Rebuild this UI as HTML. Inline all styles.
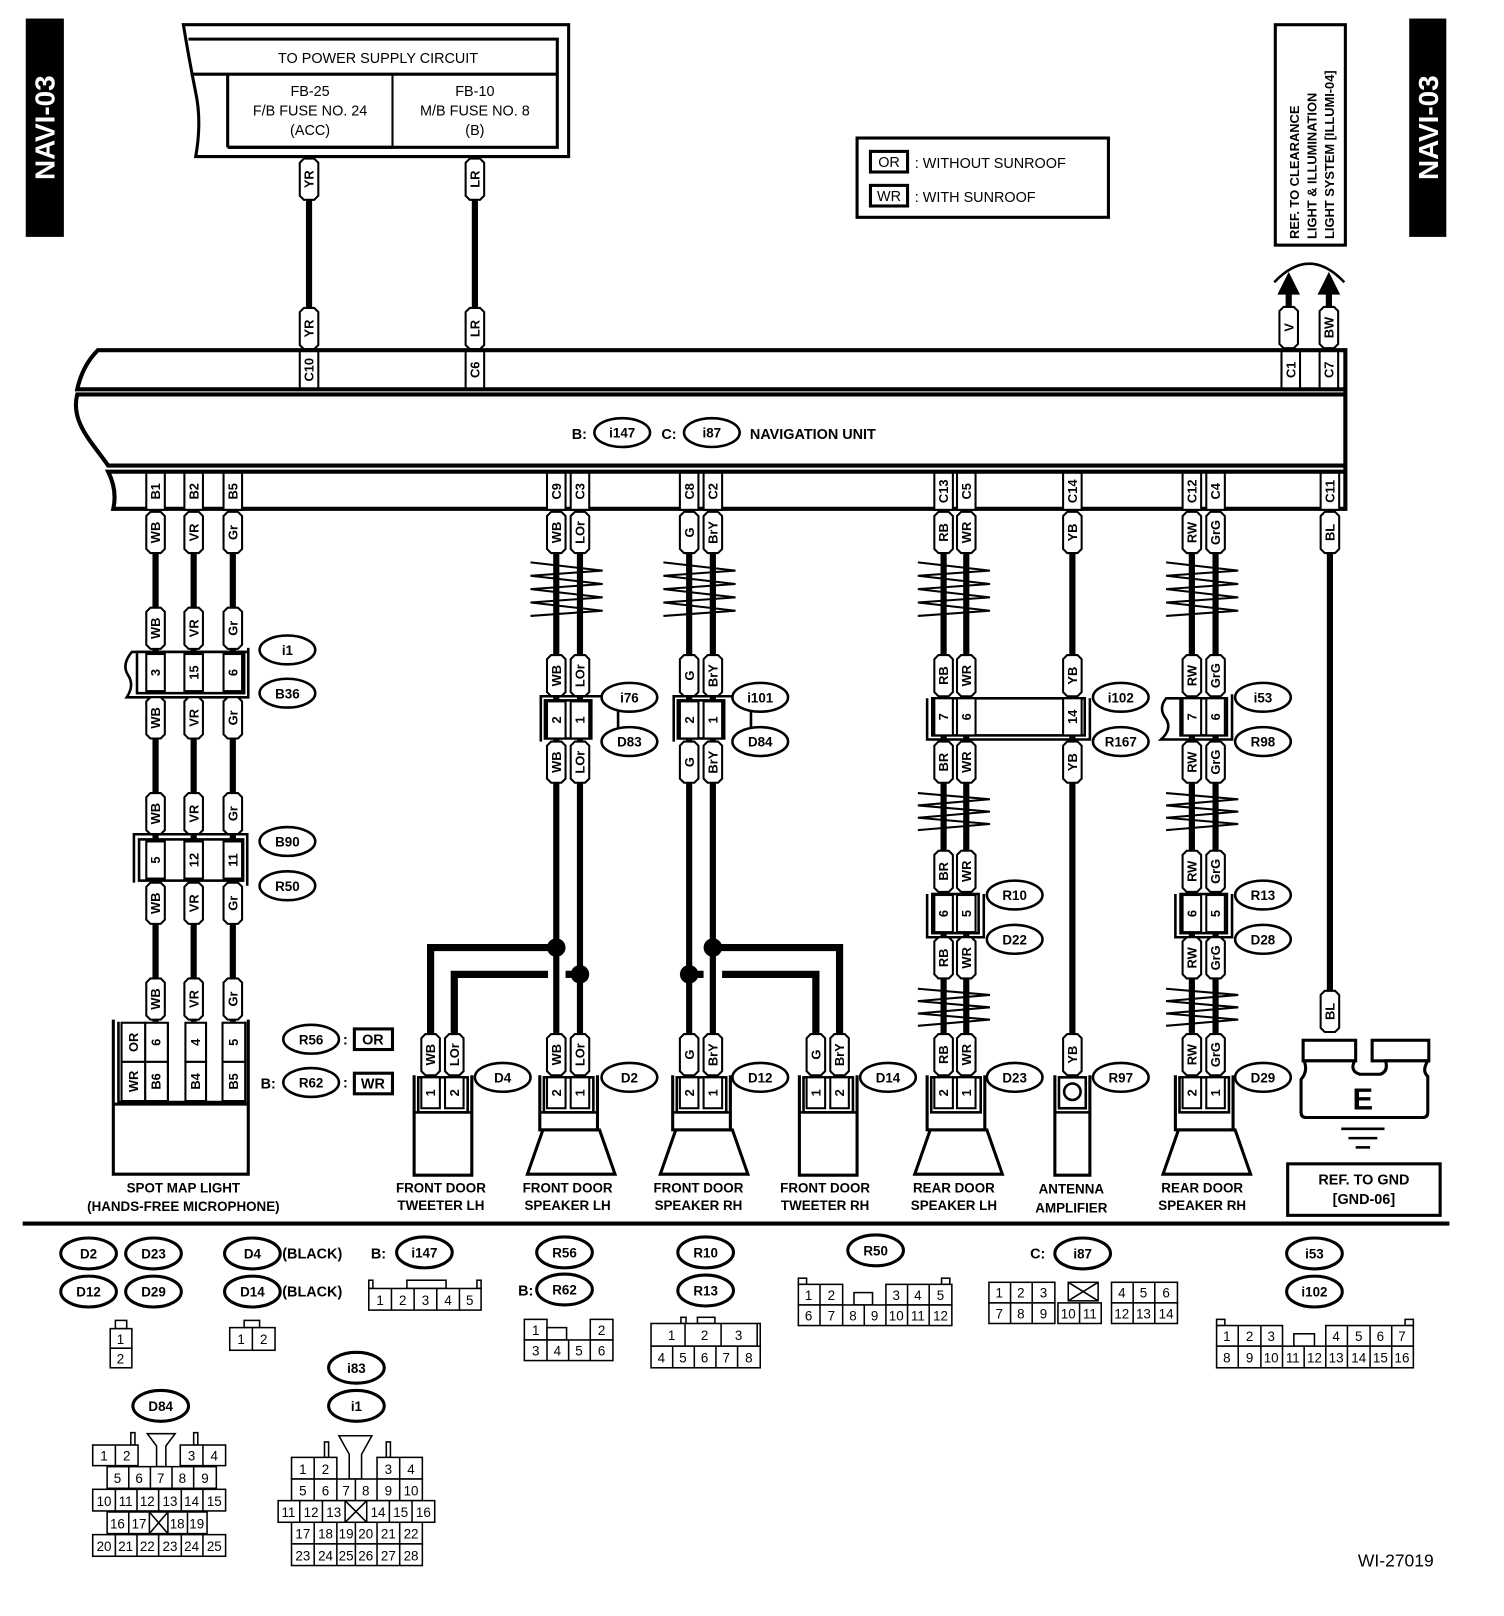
<!DOCTYPE html>
<html><head><meta charset="utf-8"><style>
html,body{margin:0;padding:0;background:#fff}
svg{display:block}
text{font-family:"Liberation Sans",Arial,sans-serif;font-weight:bold;fill:#000}
.v{font-size:12.5px;text-anchor:middle}
.c{font-size:13px;text-anchor:middle}
.n{font-size:13px;text-anchor:middle;font-weight:normal}
.s{font-size:14px}
</style></head><body>
<svg width="1504" height="1616" viewBox="0 0 1460 1569" preserveAspectRatio="none" xmlns="http://www.w3.org/2000/svg">
<defs>
<path id="tg" d="M-9,4 L-5,0 H5 L9,4 V36 L5,40 H-5 L-9,36 Z" fill="#fff" stroke="#000" stroke-width="2"/>
<rect id="pc" x="-9" y="0" width="18" height="36" fill="#fff" stroke="#000" stroke-width="2"/>
<rect id="pc2" x="-9" y="0" width="18" height="30" fill="#fff" stroke="#000" stroke-width="2"/>
<polyline id="tw" points="-25,0 45,8 -25,13 45,21 -25,26 45,34 -25,39 45,47 -25,52" fill="none" stroke="#000" stroke-width="2"/>
<polyline id="tw2" points="-25,0 45,6 -25,12 45,18 -25,24 45,30 -25,36" fill="none" stroke="#000" stroke-width="2"/>
</defs>

<!-- NAVI tabs -->
<rect x="25" y="18" width="37" height="212" fill="#000"/>
<text x="-124" y="53" transform="rotate(-90)" style="font-size:27px;fill:#fff;text-anchor:middle">NAVI-03</text>
<rect x="1368" y="18" width="36" height="212" fill="#000"/>
<text x="-124" y="1396" transform="rotate(-90)" style="font-size:27px;fill:#fff;text-anchor:middle">NAVI-03</text>

<!-- power box -->
<path d="M178,24 H552 V152 H190 Q196,118 190,90 Q184,60 178,24 Z" fill="none" stroke="#000" stroke-width="3"/>
<path d="M183,38 H541 V143 H221" fill="none" stroke="#000" stroke-width="3"/>
<line x1="185" y1="72" x2="541" y2="72" stroke="#000" stroke-width="3"/>
<line x1="221" y1="72" x2="221" y2="143" stroke="#000" stroke-width="3"/>
<line x1="381" y1="72" x2="381" y2="143" stroke="#000" stroke-width="2"/>
<line x1="221" y1="143" x2="381" y2="143" stroke="#000" stroke-width="3"/>
<text x="367" y="61" class="c" style="font-weight:normal;font-size:14px">TO POWER SUPPLY CIRCUIT</text>
<text x="301" y="93" class="n" style="font-size:14px">FB-25</text>
<text x="301" y="112" class="n" style="font-size:14px">F/B FUSE NO. 24</text>
<text x="301" y="131" class="n" style="font-size:14px">(ACC)</text>
<text x="461" y="93" class="n" style="font-size:14px">FB-10</text>
<text x="461" y="112" class="n" style="font-size:14px">M/B FUSE NO. 8</text>
<text x="461" y="131" class="n" style="font-size:14px">(B)</text>

<!-- legend -->
<rect x="832" y="134" width="244" height="77" fill="none" stroke="#000" stroke-width="3"/>
<rect x="845" y="147" width="36" height="20" fill="none" stroke="#000" stroke-width="3"/>
<text x="863" y="162" class="n" style="font-size:14px">OR</text>
<text x="888" y="163" style="font-size:14px;font-weight:normal">: WITHOUT SUNROOF</text>
<rect x="845" y="180" width="36" height="20" fill="none" stroke="#000" stroke-width="3"/>
<text x="863" y="195" class="n" style="font-size:14px">WR</text>
<text x="888" y="196" style="font-size:14px;font-weight:normal">: WITH SUNROOF</text>

<!-- REF box -->
<rect x="1238" y="24" width="68" height="214" fill="none" stroke="#000" stroke-width="3"/>
<text x="-232" y="1261" transform="rotate(-90)" style="font-size:12.5px">REF. TO CLEARANCE</text>
<text x="-232" y="1278" transform="rotate(-90)" style="font-size:12.5px">LIGHT &amp; ILLUMINATION</text>
<text x="-232" y="1295" transform="rotate(-90)" style="font-size:12.5px">LIGHT SYSTEM [ILLUMI-04]</text>
<path d="M1237,274 Q1271,238 1305,274" fill="none" stroke="#000" stroke-width="2.5"/>
<polygon points="1251,264 1240,286 1262,286" fill="#000"/>
<polygon points="1290,264 1279,286 1301,286" fill="#000"/>
<line x1="1251" y1="284" x2="1251" y2="340" stroke="#000" stroke-width="6"/>
<line x1="1290" y1="284" x2="1290" y2="340" stroke="#000" stroke-width="6"/>
<g transform="translate(1251,298)"><use href="#tg"/><text class="v" x="-20" y="4.5" transform="rotate(-90)">V</text></g>
<g transform="translate(1290,298)"><use href="#tg"/><text class="v" x="-20" y="4.5" transform="rotate(-90)">BW</text></g>

<!-- power wires -->
<line x1="300" y1="152" x2="300" y2="340" stroke="#000" stroke-width="6"/>
<line x1="461" y1="152" x2="461" y2="340" stroke="#000" stroke-width="6"/>
<g transform="translate(300,154)"><use href="#tg"/><text class="v" x="-20" y="4.5" transform="rotate(-90)">YR</text></g>
<g transform="translate(461,154)"><use href="#tg"/><text class="v" x="-20" y="4.5" transform="rotate(-90)">LR</text></g>
<g transform="translate(300,299)"><use href="#tg"/><text class="v" x="-20" y="4.5" transform="rotate(-90)">YR</text></g>
<g transform="translate(461,299)"><use href="#tg"/><text class="v" x="-20" y="4.5" transform="rotate(-90)">LR</text></g>

<!-- nav unit -->
<g fill="none" stroke="#000" stroke-width="4">
<path d="M1306,340 H95 Q80,355 75,378 H1306"/>
<path d="M1306,383 H75 C68,410 90,430 105,452 H1306"/>
<path d="M1306,458 H105 Q114,476 110,494 H1306"/>
<line x1="1306" y1="338" x2="1306" y2="496"/>
</g>
<text x="555" y="426" style="font-size:14px">B:</text>
<ellipse cx="604" cy="420" rx="27" ry="14" fill="#fff" stroke="#000" stroke-width="2.5"/><text x="604" y="425" class="c">i147</text>
<text x="642" y="426" style="font-size:14px">C:</text>
<ellipse cx="691" cy="420" rx="27" ry="14" fill="#fff" stroke="#000" stroke-width="2.5"/><text x="691" y="425" class="c">i87</text>
<text x="728" y="426" style="font-size:14px">NAVIGATION UNIT</text>

<!-- top pins -->
<g transform="translate(300,341)"><use href="#pc"/><text class="v" x="-18" y="4.5" transform="rotate(-90)">C10</text></g>
<g transform="translate(461,341)"><use href="#pc"/><text class="v" x="-18" y="4.5" transform="rotate(-90)">C6</text></g>
<g transform="translate(1253,341)"><use href="#pc"/><text class="v" x="-18" y="4.5" transform="rotate(-90)">C1</text></g>
<g transform="translate(1290,341)"><use href="#pc"/><text class="v" x="-18" y="4.5" transform="rotate(-90)">C7</text></g>

<!-- wires (under) -->
<g stroke="#000" stroke-width="6" fill="none">
<line x1="151" y1="494" x2="151" y2="992"/><line x1="188" y1="494" x2="188" y2="992"/><line x1="226" y1="494" x2="226" y2="992"/>
<line x1="540" y1="494" x2="540" y2="1006"/><line x1="563" y1="494" x2="563" y2="1006"/>
<line x1="669" y1="494" x2="669" y2="1006"/><line x1="692" y1="494" x2="692" y2="1006"/>
<line x1="916" y1="494" x2="916" y2="1006"/><line x1="938" y1="494" x2="938" y2="1006"/>
<line x1="1041" y1="494" x2="1041" y2="1006"/>
<line x1="1157" y1="494" x2="1157" y2="1006"/><line x1="1180" y1="494" x2="1180" y2="1006"/>
<line x1="1291" y1="494" x2="1291" y2="965"/>
<path d="M418,1006 V920 H540" stroke-width="7"/>
<path d="M441,1006 V946 H532" stroke-width="7"/>
<path d="M549,946 H563" stroke-width="7"/>
<path d="M815,1006 V920 H692" stroke-width="7"/>
<path d="M792,1006 V946 H701" stroke-width="7"/>
<path d="M683,946 H669" stroke-width="7"/>
</g>
<circle cx="540" cy="920" r="9"/><circle cx="563" cy="946" r="9"/>
<circle cx="692" cy="920" r="9"/><circle cx="669" cy="946" r="9"/>

<!-- twists -->
<use href="#tw" x="540" y="546"/>
<use href="#tw" x="669" y="546"/>
<use href="#tw" x="916" y="546"/>
<use href="#tw" x="1157" y="546"/>
<use href="#tw2" x="916" y="770"/>
<use href="#tw2" x="1157" y="770"/>
<use href="#tw2" x="916" y="960"/>
<use href="#tw2" x="1157" y="960"/>

<!-- bottom pins -->
<g transform="translate(151,459)"><use href="#pc"/><text class="v" x="-18" y="4.5" transform="rotate(-90)">B1</text></g>
<g transform="translate(188,459)"><use href="#pc"/><text class="v" x="-18" y="4.5" transform="rotate(-90)">B2</text></g>
<g transform="translate(226,459)"><use href="#pc"/><text class="v" x="-18" y="4.5" transform="rotate(-90)">B5</text></g>
<g transform="translate(540,459)"><use href="#pc"/><text class="v" x="-18" y="4.5" transform="rotate(-90)">C9</text></g>
<g transform="translate(563,459)"><use href="#pc"/><text class="v" x="-18" y="4.5" transform="rotate(-90)">C3</text></g>
<g transform="translate(669,459)"><use href="#pc"/><text class="v" x="-18" y="4.5" transform="rotate(-90)">C8</text></g>
<g transform="translate(692,459)"><use href="#pc"/><text class="v" x="-18" y="4.5" transform="rotate(-90)">C2</text></g>
<g transform="translate(916,459)"><use href="#pc"/><text class="v" x="-18" y="4.5" transform="rotate(-90)">C13</text></g>
<g transform="translate(938,459)"><use href="#pc"/><text class="v" x="-18" y="4.5" transform="rotate(-90)">C5</text></g>
<g transform="translate(1041,459)"><use href="#pc"/><text class="v" x="-18" y="4.5" transform="rotate(-90)">C14</text></g>
<g transform="translate(1157,459)"><use href="#pc"/><text class="v" x="-18" y="4.5" transform="rotate(-90)">C12</text></g>
<g transform="translate(1180,459)"><use href="#pc"/><text class="v" x="-18" y="4.5" transform="rotate(-90)">C4</text></g>
<g transform="translate(1291,459)"><use href="#pc"/><text class="v" x="-18" y="4.5" transform="rotate(-90)">C11</text></g>

<!-- column 1 -->
<g transform="translate(151,497)"><use href="#tg"/><text class="v" x="-20" y="4.5" transform="rotate(-90)">WB</text></g>
<g transform="translate(188,497)"><use href="#tg"/><text class="v" x="-20" y="4.5" transform="rotate(-90)">VR</text></g>
<g transform="translate(226,497)"><use href="#tg"/><text class="v" x="-20" y="4.5" transform="rotate(-90)">Gr</text></g>
<g transform="translate(151,590)"><use href="#tg"/><text class="v" x="-20" y="4.5" transform="rotate(-90)">WB</text></g>
<g transform="translate(188,590)"><use href="#tg"/><text class="v" x="-20" y="4.5" transform="rotate(-90)">VR</text></g>
<g transform="translate(226,590)"><use href="#tg"/><text class="v" x="-20" y="4.5" transform="rotate(-90)">Gr</text></g>
<path d="M241,629 V677 H123 Q131,665 124,655 Q118,645 128,633 H241" fill="#fff" stroke="#000" stroke-width="2.5"/>
<rect x="133" y="633" width="104" height="40" fill="#fff" stroke="#000" stroke-width="2.5"/>
<g transform="translate(151,635)"><use href="#pc"/><text class="v" x="-18" y="4.5" transform="rotate(-90)">3</text></g>
<g transform="translate(188,635)"><use href="#pc"/><text class="v" x="-18" y="4.5" transform="rotate(-90)">15</text></g>
<g transform="translate(226,635)"><use href="#pc"/><text class="v" x="-18" y="4.5" transform="rotate(-90)">6</text></g>
<g transform="translate(151,677)"><use href="#tg"/><text class="v" x="-20" y="4.5" transform="rotate(-90)">WB</text></g>
<g transform="translate(188,677)"><use href="#tg"/><text class="v" x="-20" y="4.5" transform="rotate(-90)">VR</text></g>
<g transform="translate(226,677)"><use href="#tg"/><text class="v" x="-20" y="4.5" transform="rotate(-90)">Gr</text></g>
<g transform="translate(151,770)"><use href="#tg"/><text class="v" x="-20" y="4.5" transform="rotate(-90)">WB</text></g>
<g transform="translate(188,770)"><use href="#tg"/><text class="v" x="-20" y="4.5" transform="rotate(-90)">VR</text></g>
<g transform="translate(226,770)"><use href="#tg"/><text class="v" x="-20" y="4.5" transform="rotate(-90)">Gr</text></g>
<path d="M130,857 V810 H240 V860" fill="none" stroke="#000" stroke-width="2.5"/>
<rect x="135" y="815" width="101" height="40" fill="#fff" stroke="#000" stroke-width="2.5"/>
<g transform="translate(151,817)"><use href="#pc"/><text class="v" x="-18" y="4.5" transform="rotate(-90)">5</text></g>
<g transform="translate(188,817)"><use href="#pc"/><text class="v" x="-18" y="4.5" transform="rotate(-90)">12</text></g>
<g transform="translate(226,817)"><use href="#pc"/><text class="v" x="-18" y="4.5" transform="rotate(-90)">11</text></g>
<g transform="translate(151,857)"><use href="#tg"/><text class="v" x="-20" y="4.5" transform="rotate(-90)">WB</text></g>
<g transform="translate(188,857)"><use href="#tg"/><text class="v" x="-20" y="4.5" transform="rotate(-90)">VR</text></g>
<g transform="translate(226,857)"><use href="#tg"/><text class="v" x="-20" y="4.5" transform="rotate(-90)">Gr</text></g>
<g transform="translate(151,950)"><use href="#tg"/><text class="v" x="-20" y="4.5" transform="rotate(-90)">WB</text></g>
<g transform="translate(188,950)"><use href="#tg"/><text class="v" x="-20" y="4.5" transform="rotate(-90)">VR</text></g>
<g transform="translate(226,950)"><use href="#tg"/><text class="v" x="-20" y="4.5" transform="rotate(-90)">Gr</text></g>
<!-- spot map -->
<path d="M110,990 V1140 H241 V990" fill="none" stroke="#000" stroke-width="3"/>
<path d="M115,992 V1070 H238 V992" fill="none" stroke="#000" stroke-width="2.5"/>
<line x1="110" y1="1072" x2="241" y2="1072" stroke="#000" stroke-width="3"/>
<g fill="#fff" stroke="#000" stroke-width="2">
<rect x="118" y="993" width="23" height="38"/><rect x="141" y="993" width="22" height="38"/><rect x="180" y="993" width="20" height="38"/><rect x="216" y="993" width="22" height="38"/>
<rect x="118" y="1031" width="23" height="38"/><rect x="141" y="1031" width="22" height="38"/><rect x="180" y="1031" width="20" height="38"/><rect x="216" y="1031" width="22" height="38"/>
</g>
<line x1="163" y1="993" x2="163" y2="1069" stroke="#000" stroke-width="2"/>
<line x1="200" y1="993" x2="200" y2="1069" stroke="#000" stroke-width="2"/>
<text class="v" x="-1012" y="134" transform="rotate(-90)">OR</text>
<text class="v" x="-1012" y="156" transform="rotate(-90)">6</text>
<text class="v" x="-1012" y="194" transform="rotate(-90)">4</text>
<text class="v" x="-1012" y="231" transform="rotate(-90)">5</text>
<text class="v" x="-1050" y="134" transform="rotate(-90)">WR</text>
<text class="v" x="-1050" y="156" transform="rotate(-90)">B6</text>
<text class="v" x="-1050" y="194" transform="rotate(-90)">B4</text>
<text class="v" x="-1050" y="231" transform="rotate(-90)">B5</text>
<text x="178" y="1158" class="c">SPOT MAP LIGHT</text>
<text x="178" y="1176" class="c">(HANDS-FREE MICROPHONE)</text>
<ellipse cx="302" cy="1009" rx="27" ry="14" fill="#fff" stroke="#000" stroke-width="2.5"/><text x="302" y="1014" class="c">R56</text>
<text x="333" y="1014" style="font-size:14px">:</text>
<rect x="344" y="999" width="37" height="20" fill="none" stroke="#000" stroke-width="3"/><text x="362" y="1014" class="c" style="font-size:14px">OR</text>
<text x="253" y="1057" style="font-size:14px">B:</text>
<ellipse cx="302" cy="1051" rx="27" ry="14" fill="#fff" stroke="#000" stroke-width="2.5"/><text x="302" y="1056" class="c">R62</text>
<text x="333" y="1056" style="font-size:14px">:</text>
<rect x="344" y="1042" width="37" height="20" fill="none" stroke="#000" stroke-width="3"/><text x="362" y="1057" class="c" style="font-size:14px">WR</text>

<!-- ovals col1 -->
<ellipse cx="279" cy="631" rx="27" ry="14" fill="#fff" stroke="#000" stroke-width="2.5"/><text x="279" y="636" class="c">i1</text>
<ellipse cx="279" cy="673" rx="27" ry="14" fill="#fff" stroke="#000" stroke-width="2.5"/><text x="279" y="678" class="c">B36</text>
<ellipse cx="279" cy="817" rx="27" ry="14" fill="#fff" stroke="#000" stroke-width="2.5"/><text x="279" y="822" class="c">B90</text>
<ellipse cx="279" cy="860" rx="27" ry="14" fill="#fff" stroke="#000" stroke-width="2.5"/><text x="279" y="865" class="c">R50</text>

<!-- column 3 & 4 top labels -->
<g transform="translate(540,497)"><use href="#tg"/><text class="v" x="-20" y="4.5" transform="rotate(-90)">WB</text></g>
<g transform="translate(563,497)"><use href="#tg"/><text class="v" x="-20" y="4.5" transform="rotate(-90)">LOr</text></g>
<g transform="translate(669,497)"><use href="#tg"/><text class="v" x="-20" y="4.5" transform="rotate(-90)">G</text></g>
<g transform="translate(692,497)"><use href="#tg"/><text class="v" x="-20" y="4.5" transform="rotate(-90)">BrY</text></g>
<g transform="translate(540,636)"><use href="#tg"/><text class="v" x="-20" y="4.5" transform="rotate(-90)">WB</text></g>
<g transform="translate(563,636)"><use href="#tg"/><text class="v" x="-20" y="4.5" transform="rotate(-90)">LOr</text></g>
<g transform="translate(669,636)"><use href="#tg"/><text class="v" x="-20" y="4.5" transform="rotate(-90)">G</text></g>
<g transform="translate(692,636)"><use href="#tg"/><text class="v" x="-20" y="4.5" transform="rotate(-90)">BrY</text></g>
<path d="M525,720 V676 H600 V720" fill="none" stroke="#000" stroke-width="2.5"/>
<rect x="529" y="680" width="45" height="37" fill="#fff" stroke="#000" stroke-width="2.5"/>
<g transform="translate(540,681)"><use href="#pc"/><text class="v" x="-18" y="4.5" transform="rotate(-90)">2</text></g>
<g transform="translate(563,681)"><use href="#pc"/><text class="v" x="-18" y="4.5" transform="rotate(-90)">1</text></g>
<path d="M654,720 V676 H729 V720" fill="none" stroke="#000" stroke-width="2.5"/>
<rect x="658" y="680" width="45" height="37" fill="#fff" stroke="#000" stroke-width="2.5"/>
<g transform="translate(669,681)"><use href="#pc"/><text class="v" x="-18" y="4.5" transform="rotate(-90)">2</text></g>
<g transform="translate(692,681)"><use href="#pc"/><text class="v" x="-18" y="4.5" transform="rotate(-90)">1</text></g>
<g transform="translate(540,720)"><use href="#tg"/><text class="v" x="-20" y="4.5" transform="rotate(-90)">WB</text></g>
<g transform="translate(563,720)"><use href="#tg"/><text class="v" x="-20" y="4.5" transform="rotate(-90)">LOr</text></g>
<g transform="translate(669,720)"><use href="#tg"/><text class="v" x="-20" y="4.5" transform="rotate(-90)">G</text></g>
<g transform="translate(692,720)"><use href="#tg"/><text class="v" x="-20" y="4.5" transform="rotate(-90)">BrY</text></g>
<ellipse cx="611" cy="677" rx="27" ry="14" fill="#fff" stroke="#000" stroke-width="2.5"/><text x="611" y="682" class="c">i76</text>
<ellipse cx="611" cy="720" rx="27" ry="14" fill="#fff" stroke="#000" stroke-width="2.5"/><text x="611" y="725" class="c">D83</text>
<ellipse cx="738" cy="677" rx="27" ry="14" fill="#fff" stroke="#000" stroke-width="2.5"/><text x="738" y="682" class="c">i101</text>
<ellipse cx="738" cy="720" rx="27" ry="14" fill="#fff" stroke="#000" stroke-width="2.5"/><text x="738" y="725" class="c">D84</text>

<!-- bottom devices: tweeter LH -->
<g transform="translate(418,1004)"><use href="#tg"/><text class="v" x="-20" y="4.5" transform="rotate(-90)">WB</text></g>
<g transform="translate(441,1004)"><use href="#tg"/><text class="v" x="-20" y="4.5" transform="rotate(-90)">LOr</text></g>
<path d="M402,1044 V1141 H458 V1044" fill="none" stroke="#000" stroke-width="3"/>
<rect x="406" y="1046" width="48" height="34" fill="none" stroke="#000" stroke-width="2.5"/>
<g transform="translate(418,1046)"><use href="#pc2"/><text class="v" x="-15" y="4.5" transform="rotate(-90)">1</text></g>
<g transform="translate(441,1046)"><use href="#pc2"/><text class="v" x="-15" y="4.5" transform="rotate(-90)">2</text></g>
<line x1="402" y1="1080" x2="458" y2="1080" stroke="#000" stroke-width="2.5"/>
<ellipse cx="488" cy="1046" rx="27" ry="14" fill="#fff" stroke="#000" stroke-width="2.5"/><text x="488" y="1051" class="c">D4</text>
<text x="428" y="1158" class="c">FRONT DOOR</text><text x="428" y="1175" class="c">TWEETER LH</text>

<!-- speaker LH -->
<g transform="translate(540,1004)"><use href="#tg"/><text class="v" x="-20" y="4.5" transform="rotate(-90)">WB</text></g>
<g transform="translate(563,1004)"><use href="#tg"/><text class="v" x="-20" y="4.5" transform="rotate(-90)">LOr</text></g>
<path d="M524,1044 V1097 H580 V1044" fill="none" stroke="#000" stroke-width="3"/>
<rect x="528" y="1046" width="48" height="34" fill="none" stroke="#000" stroke-width="2.5"/>
<g transform="translate(540,1046)"><use href="#pc2"/><text class="v" x="-15" y="4.5" transform="rotate(-90)">2</text></g>
<g transform="translate(563,1046)"><use href="#pc2"/><text class="v" x="-15" y="4.5" transform="rotate(-90)">1</text></g>
<line x1="524" y1="1080" x2="580" y2="1080" stroke="#000" stroke-width="2.5"/>
<path d="M527,1097 L512,1140 H597 L582,1097 Z" fill="none" stroke="#000" stroke-width="3"/>
<ellipse cx="611" cy="1046" rx="27" ry="14" fill="#fff" stroke="#000" stroke-width="2.5"/><text x="611" y="1051" class="c">D2</text>
<text x="551" y="1158" class="c">FRONT DOOR</text><text x="551" y="1175" class="c">SPEAKER LH</text>

<!-- speaker RH -->
<g transform="translate(669,1004)"><use href="#tg"/><text class="v" x="-20" y="4.5" transform="rotate(-90)">G</text></g>
<g transform="translate(692,1004)"><use href="#tg"/><text class="v" x="-20" y="4.5" transform="rotate(-90)">BrY</text></g>
<path d="M653,1044 V1097 H709 V1044" fill="none" stroke="#000" stroke-width="3"/>
<rect x="657" y="1046" width="48" height="34" fill="none" stroke="#000" stroke-width="2.5"/>
<g transform="translate(669,1046)"><use href="#pc2"/><text class="v" x="-15" y="4.5" transform="rotate(-90)">2</text></g>
<g transform="translate(692,1046)"><use href="#pc2"/><text class="v" x="-15" y="4.5" transform="rotate(-90)">1</text></g>
<line x1="653" y1="1080" x2="709" y2="1080" stroke="#000" stroke-width="2.5"/>
<path d="M656,1097 L641,1140 H726 L711,1097 Z" fill="none" stroke="#000" stroke-width="3"/>
<ellipse cx="738" cy="1046" rx="27" ry="14" fill="#fff" stroke="#000" stroke-width="2.5"/><text x="738" y="1051" class="c">D12</text>
<text x="678" y="1158" class="c">FRONT DOOR</text><text x="678" y="1175" class="c">SPEAKER RH</text>

<!-- tweeter RH -->
<g transform="translate(792,1004)"><use href="#tg"/><text class="v" x="-20" y="4.5" transform="rotate(-90)">G</text></g>
<g transform="translate(815,1004)"><use href="#tg"/><text class="v" x="-20" y="4.5" transform="rotate(-90)">BrY</text></g>
<path d="M776,1044 V1141 H832 V1044" fill="none" stroke="#000" stroke-width="3"/>
<rect x="780" y="1046" width="48" height="34" fill="none" stroke="#000" stroke-width="2.5"/>
<g transform="translate(792,1046)"><use href="#pc2"/><text class="v" x="-15" y="4.5" transform="rotate(-90)">1</text></g>
<g transform="translate(815,1046)"><use href="#pc2"/><text class="v" x="-15" y="4.5" transform="rotate(-90)">2</text></g>
<line x1="776" y1="1080" x2="832" y2="1080" stroke="#000" stroke-width="2.5"/>
<ellipse cx="862" cy="1046" rx="27" ry="14" fill="#fff" stroke="#000" stroke-width="2.5"/><text x="862" y="1051" class="c">D14</text>
<text x="801" y="1158" class="c">FRONT DOOR</text><text x="801" y="1175" class="c">TWEETER RH</text>

<!-- rear LH column -->
<g transform="translate(916,497)"><use href="#tg"/><text class="v" x="-20" y="4.5" transform="rotate(-90)">RB</text></g>
<g transform="translate(938,497)"><use href="#tg"/><text class="v" x="-20" y="4.5" transform="rotate(-90)">WR</text></g>
<g transform="translate(1041,497)"><use href="#tg"/><text class="v" x="-20" y="4.5" transform="rotate(-90)">YB</text></g>
<g transform="translate(916,636)"><use href="#tg"/><text class="v" x="-20" y="4.5" transform="rotate(-90)">RB</text></g>
<g transform="translate(938,636)"><use href="#tg"/><text class="v" x="-20" y="4.5" transform="rotate(-90)">WR</text></g>
<g transform="translate(1041,636)"><use href="#tg"/><text class="v" x="-20" y="4.5" transform="rotate(-90)">YB</text></g>
<path d="M900,678 V718 H1058 V678" fill="none" stroke="#000" stroke-width="2.5"/>
<rect x="905" y="678" width="148" height="36" fill="#fff" stroke="#000" stroke-width="2.5"/>
<g transform="translate(916,678)"><use href="#pc"/><text class="v" x="-18" y="4.5" transform="rotate(-90)">7</text></g>
<g transform="translate(938,678)"><use href="#pc"/><text class="v" x="-18" y="4.5" transform="rotate(-90)">6</text></g>
<g transform="translate(1041,678)"><use href="#pc"/><text class="v" x="-18" y="4.5" transform="rotate(-90)">14</text></g>
<g transform="translate(916,720)"><use href="#tg"/><text class="v" x="-20" y="4.5" transform="rotate(-90)">BR</text></g>
<g transform="translate(938,720)"><use href="#tg"/><text class="v" x="-20" y="4.5" transform="rotate(-90)">WR</text></g>
<g transform="translate(1041,720)"><use href="#tg"/><text class="v" x="-20" y="4.5" transform="rotate(-90)">YB</text></g>
<ellipse cx="1088" cy="677" rx="27" ry="14" fill="#fff" stroke="#000" stroke-width="2.5"/><text x="1088" y="682" class="c">i102</text>
<ellipse cx="1088" cy="720" rx="27" ry="14" fill="#fff" stroke="#000" stroke-width="2.5"/><text x="1088" y="725" class="c">R167</text>
<g transform="translate(916,826)"><use href="#tg"/><text class="v" x="-20" y="4.5" transform="rotate(-90)">BR</text></g>
<g transform="translate(938,826)"><use href="#tg"/><text class="v" x="-20" y="4.5" transform="rotate(-90)">WR</text></g>
<path d="M900,868 V910 H955 V868" fill="none" stroke="#000" stroke-width="2.5"/>
<rect x="905" y="868" width="45" height="38" fill="#fff" stroke="#000" stroke-width="2.5"/>
<g transform="translate(916,869)"><use href="#pc"/><text class="v" x="-18" y="4.5" transform="rotate(-90)">6</text></g>
<g transform="translate(938,869)"><use href="#pc"/><text class="v" x="-18" y="4.5" transform="rotate(-90)">5</text></g>
<g transform="translate(916,910)"><use href="#tg"/><text class="v" x="-20" y="4.5" transform="rotate(-90)">RB</text></g>
<g transform="translate(938,910)"><use href="#tg"/><text class="v" x="-20" y="4.5" transform="rotate(-90)">WR</text></g>
<ellipse cx="985" cy="869" rx="27" ry="14" fill="#fff" stroke="#000" stroke-width="2.5"/><text x="985" y="874" class="c">R10</text>
<ellipse cx="985" cy="912" rx="27" ry="14" fill="#fff" stroke="#000" stroke-width="2.5"/><text x="985" y="917" class="c">D22</text>
<g transform="translate(916,1004)"><use href="#tg"/><text class="v" x="-20" y="4.5" transform="rotate(-90)">RB</text></g>
<g transform="translate(938,1004)"><use href="#tg"/><text class="v" x="-20" y="4.5" transform="rotate(-90)">WR</text></g>
<path d="M900,1044 V1097 H956 V1044" fill="none" stroke="#000" stroke-width="3"/>
<rect x="904" y="1046" width="48" height="34" fill="none" stroke="#000" stroke-width="2.5"/>
<g transform="translate(916,1046)"><use href="#pc2"/><text class="v" x="-15" y="4.5" transform="rotate(-90)">2</text></g>
<g transform="translate(938,1046)"><use href="#pc2"/><text class="v" x="-15" y="4.5" transform="rotate(-90)">1</text></g>
<path d="M903,1097 L888,1140 H973 L958,1097 Z" fill="none" stroke="#000" stroke-width="3"/>
<ellipse cx="985" cy="1046" rx="27" ry="14" fill="#fff" stroke="#000" stroke-width="2.5"/><text x="985" y="1051" class="c">D23</text>
<text x="926" y="1158" class="c">REAR DOOR</text><text x="926" y="1175" class="c">SPEAKER LH</text>

<!-- antenna -->
<g transform="translate(1041,1004)"><use href="#tg"/><text class="v" x="-20" y="4.5" transform="rotate(-90)">YB</text></g>
<path d="M1024,1044 V1141 H1058 V1044" fill="none" stroke="#000" stroke-width="3"/>
<rect x="1028" y="1046" width="26" height="30" fill="#fff" stroke="#000" stroke-width="2.5"/>
<circle cx="1041" cy="1060" r="8" fill="none" stroke="#000" stroke-width="2.5"/>
<line x1="1024" y1="1080" x2="1058" y2="1080" stroke="#000" stroke-width="2.5"/>
<ellipse cx="1088" cy="1046" rx="27" ry="14" fill="#fff" stroke="#000" stroke-width="2.5"/><text x="1088" y="1051" class="c">R97</text>
<text x="1040" y="1159" class="c">ANTENNA</text><text x="1040" y="1177" class="c">AMPLIFIER</text>

<!-- rear RH column -->
<g transform="translate(1157,497)"><use href="#tg"/><text class="v" x="-20" y="4.5" transform="rotate(-90)">RW</text></g>
<g transform="translate(1180,497)"><use href="#tg"/><text class="v" x="-20" y="4.5" transform="rotate(-90)">GrG</text></g>
<g transform="translate(1157,636)"><use href="#tg"/><text class="v" x="-20" y="4.5" transform="rotate(-90)">RW</text></g>
<g transform="translate(1180,636)"><use href="#tg"/><text class="v" x="-20" y="4.5" transform="rotate(-90)">GrG</text></g>
<path d="M1196,674 V718 H1127 Q1138,708 1132,698 Q1124,688 1132,678 H1146" fill="none" stroke="#000" stroke-width="2.5"/>
<rect x="1146" y="678" width="45" height="36" fill="#fff" stroke="#000" stroke-width="2.5"/>
<g transform="translate(1157,678)"><use href="#pc"/><text class="v" x="-18" y="4.5" transform="rotate(-90)">7</text></g>
<g transform="translate(1180,678)"><use href="#pc"/><text class="v" x="-18" y="4.5" transform="rotate(-90)">6</text></g>
<g transform="translate(1157,720)"><use href="#tg"/><text class="v" x="-20" y="4.5" transform="rotate(-90)">RW</text></g>
<g transform="translate(1180,720)"><use href="#tg"/><text class="v" x="-20" y="4.5" transform="rotate(-90)">GrG</text></g>
<ellipse cx="1226" cy="677" rx="27" ry="14" fill="#fff" stroke="#000" stroke-width="2.5"/><text x="1226" y="682" class="c">i53</text>
<ellipse cx="1226" cy="720" rx="27" ry="14" fill="#fff" stroke="#000" stroke-width="2.5"/><text x="1226" y="725" class="c">R98</text>
<g transform="translate(1157,826)"><use href="#tg"/><text class="v" x="-20" y="4.5" transform="rotate(-90)">RW</text></g>
<g transform="translate(1180,826)"><use href="#tg"/><text class="v" x="-20" y="4.5" transform="rotate(-90)">GrG</text></g>
<path d="M1141,868 V910 H1196 V868" fill="none" stroke="#000" stroke-width="2.5"/>
<rect x="1146" y="868" width="45" height="38" fill="#fff" stroke="#000" stroke-width="2.5"/>
<g transform="translate(1157,869)"><use href="#pc"/><text class="v" x="-18" y="4.5" transform="rotate(-90)">6</text></g>
<g transform="translate(1180,869)"><use href="#pc"/><text class="v" x="-18" y="4.5" transform="rotate(-90)">5</text></g>
<g transform="translate(1157,910)"><use href="#tg"/><text class="v" x="-20" y="4.5" transform="rotate(-90)">RW</text></g>
<g transform="translate(1180,910)"><use href="#tg"/><text class="v" x="-20" y="4.5" transform="rotate(-90)">GrG</text></g>
<ellipse cx="1226" cy="869" rx="27" ry="14" fill="#fff" stroke="#000" stroke-width="2.5"/><text x="1226" y="874" class="c">R13</text>
<ellipse cx="1226" cy="912" rx="27" ry="14" fill="#fff" stroke="#000" stroke-width="2.5"/><text x="1226" y="917" class="c">D28</text>
<g transform="translate(1157,1004)"><use href="#tg"/><text class="v" x="-20" y="4.5" transform="rotate(-90)">RW</text></g>
<g transform="translate(1180,1004)"><use href="#tg"/><text class="v" x="-20" y="4.5" transform="rotate(-90)">GrG</text></g>
<path d="M1141,1044 V1097 H1197 V1044" fill="none" stroke="#000" stroke-width="3"/>
<rect x="1145" y="1046" width="48" height="34" fill="none" stroke="#000" stroke-width="2.5"/>
<g transform="translate(1157,1046)"><use href="#pc2"/><text class="v" x="-15" y="4.5" transform="rotate(-90)">2</text></g>
<g transform="translate(1180,1046)"><use href="#pc2"/><text class="v" x="-15" y="4.5" transform="rotate(-90)">1</text></g>
<path d="M1144,1097 L1129,1140 H1214 L1199,1097 Z" fill="none" stroke="#000" stroke-width="3"/>
<ellipse cx="1226" cy="1046" rx="27" ry="14" fill="#fff" stroke="#000" stroke-width="2.5"/><text x="1226" y="1051" class="c">D29</text>
<text x="1167" y="1158" class="c">REAR DOOR</text><text x="1167" y="1175" class="c">SPEAKER RH</text>

<!-- ground -->
<g transform="translate(1291,497)"><use href="#tg"/><text class="v" x="-20" y="4.5" transform="rotate(-90)">BL</text></g>
<g transform="translate(1291,962)"><use href="#tg"/><text class="v" x="-20" y="4.5" transform="rotate(-90)">BL</text></g>
<rect x="1265" y="1010" width="51" height="20" fill="#fff" stroke="#000" stroke-width="3"/>
<rect x="1332" y="1010" width="55" height="20" fill="#fff" stroke="#000" stroke-width="3"/>
<path d="M1266,1030 H1315 Q1310,1040 1320,1043 H1340 Q1348,1040 1345,1030 H1386 Q1380,1040 1386,1045 V1080 Q1386,1085 1381,1085 H1268 Q1263,1085 1263,1080 V1048 Q1270,1040 1266,1030 Z" fill="#fff" stroke="#000" stroke-width="3"/>
<text x="1323" y="1077" style="font-size:30px;text-anchor:middle">E</text>
<line x1="1302" y1="1096" x2="1344" y2="1096" stroke="#000" stroke-width="2.5"/>
<line x1="1309" y1="1105" x2="1337" y2="1105" stroke="#000" stroke-width="2.5"/>
<line x1="1316" y1="1114" x2="1330" y2="1114" stroke="#000" stroke-width="2.5"/>
<rect x="1250" y="1130" width="148" height="50" fill="none" stroke="#000" stroke-width="3"/>
<text x="1324" y="1150" class="c" style="font-size:14px">REF. TO GND</text>
<text x="1324" y="1169" class="c" style="font-size:14px">[GND-06]</text>

<!-- separator -->
<line x1="22" y1="1188" x2="1407" y2="1188" stroke="#000" stroke-width="4"/>

<!-- bottom legend ovals -->
<g fill="#fff" stroke="#000" stroke-width="3">
<ellipse cx="86" cy="1217" rx="27" ry="15"/><ellipse cx="149" cy="1217" rx="27" ry="15"/>
<ellipse cx="86" cy="1254" rx="27" ry="15"/><ellipse cx="149" cy="1254" rx="27" ry="15"/>
<ellipse cx="245" cy="1217" rx="27" ry="15"/><ellipse cx="245" cy="1254" rx="27" ry="15"/>
<ellipse cx="412" cy="1216" rx="27" ry="15"/>
<ellipse cx="548" cy="1216" rx="27" ry="15"/><ellipse cx="548" cy="1252" rx="27" ry="15"/>
<ellipse cx="685" cy="1216" rx="27" ry="15"/><ellipse cx="685" cy="1253" rx="27" ry="15"/>
<ellipse cx="850" cy="1214" rx="27" ry="15"/>
<ellipse cx="1051" cy="1217" rx="27" ry="15"/>
<ellipse cx="1276" cy="1217" rx="27" ry="15"/><ellipse cx="1276" cy="1254" rx="27" ry="15"/>
<ellipse cx="346" cy="1328" rx="27" ry="15"/><ellipse cx="346" cy="1365" rx="27" ry="15"/>
<ellipse cx="156" cy="1365" rx="27" ry="15"/>
</g>
<g class="c">
<text x="86" y="1222" class="c">D2</text><text x="149" y="1222" class="c">D23</text>
<text x="86" y="1259" class="c">D12</text><text x="149" y="1259" class="c">D29</text>
<text x="245" y="1222" class="c">D4</text><text x="245" y="1259" class="c">D14</text>
<text x="412" y="1221" class="c">i147</text>
<text x="548" y="1221" class="c">R56</text><text x="548" y="1257" class="c">R62</text>
<text x="685" y="1221" class="c">R10</text><text x="685" y="1258" class="c">R13</text>
<text x="850" y="1219" class="c">R50</text>
<text x="1051" y="1222" class="c">i87</text>
<text x="1276" y="1222" class="c">i53</text><text x="1276" y="1259" class="c">i102</text>
<text x="346" y="1333" class="c">i83</text><text x="346" y="1370" class="c">i1</text>
<text x="156" y="1370" class="c">D84</text>
</g>
<text x="274" y="1222" style="font-size:14px">(BLACK)</text>
<text x="274" y="1259" style="font-size:14px">(BLACK)</text>
<text x="360" y="1222" style="font-size:14px">B:</text>
<text x="503" y="1258" style="font-size:14px">B:</text>
<text x="1000" y="1222" style="font-size:14px">C:</text>

<!-- small connector grids -->
<g fill="#fff" stroke="#000" stroke-width="1.5">
<rect x="112" y="1282" width="11" height="8"/>
<rect x="107" y="1290" width="21" height="19"/><rect x="107" y="1309" width="21" height="19"/>
<rect x="237" y="1282" width="15" height="7"/>
<rect x="223" y="1289" width="44" height="22"/><line x1="245" y1="1289" x2="245" y2="1311"/>
<rect x="358" y="1243" width="4" height="8"/><rect x="463" y="1243" width="4" height="8"/>
<rect x="395" y="1243" width="38" height="8"/>
<rect x="358" y="1251" width="109" height="21"/>
<line x1="380" y1="1251" x2="380" y2="1272"/><line x1="402" y1="1251" x2="402" y2="1272"/><line x1="424" y1="1251" x2="424" y2="1272"/><line x1="446" y1="1251" x2="446" y2="1272"/>
<rect x="509" y="1281" width="22" height="20"/><rect x="573" y="1281" width="22" height="20"/>
<rect x="531" y="1289" width="19" height="12"/>
<rect x="509" y="1301" width="86" height="20"/>
<line x1="531" y1="1301" x2="531" y2="1321"/><line x1="552" y1="1301" x2="552" y2="1321"/><line x1="573" y1="1301" x2="573" y2="1321"/>
<rect x="661" y="1279" width="5" height="6"/><rect x="677" y="1279" width="17" height="6"/>
<rect x="632" y="1285" width="106" height="22"/>
<line x1="665" y1="1285" x2="665" y2="1307"/><line x1="700" y1="1285" x2="700" y2="1307"/><line x1="735" y1="1285" x2="735" y2="1307"/>
<rect x="632" y="1307" width="106" height="21"/>
<line x1="653" y1="1307" x2="653" y2="1328"/><line x1="674" y1="1307" x2="674" y2="1328"/><line x1="695" y1="1307" x2="695" y2="1328"/><line x1="716" y1="1307" x2="716" y2="1328"/>
<rect x="775" y="1241" width="8" height="6"/><rect x="914" y="1241" width="8" height="6"/>
<rect x="775" y="1247" width="43" height="20"/><line x1="796" y1="1247" x2="796" y2="1267"/>
<rect x="829" y="1255" width="18" height="12"/>
<rect x="860" y="1247" width="64" height="20"/><line x1="881" y1="1247" x2="881" y2="1267"/><line x1="902" y1="1247" x2="902" y2="1267"/>
<rect x="775" y="1267" width="149" height="20"/>
<line x1="796" y1="1267" x2="796" y2="1287"/><line x1="818" y1="1267" x2="818" y2="1287"/><line x1="839" y1="1267" x2="839" y2="1287"/><line x1="860" y1="1267" x2="860" y2="1287"/><line x1="881" y1="1267" x2="881" y2="1287"/><line x1="902" y1="1267" x2="902" y2="1287"/>
<rect x="960" y="1245" width="64" height="20"/><line x1="981" y1="1245" x2="981" y2="1265"/><line x1="1002" y1="1245" x2="1002" y2="1265"/>
<rect x="1037" y="1245" width="29" height="18"/><line x1="1037" y1="1245" x2="1066" y2="1263"/><line x1="1066" y1="1245" x2="1037" y2="1263"/>
<rect x="1079" y="1245" width="64" height="20"/><line x1="1100" y1="1245" x2="1100" y2="1265"/><line x1="1121" y1="1245" x2="1121" y2="1265"/>
<rect x="960" y="1265" width="64" height="20"/><line x1="981" y1="1265" x2="981" y2="1285"/><line x1="1002" y1="1265" x2="1002" y2="1285"/>
<rect x="1027" y="1265" width="42" height="20"/><line x1="1048" y1="1265" x2="1048" y2="1285"/>
<rect x="1079" y="1265" width="64" height="20"/><line x1="1100" y1="1265" x2="1100" y2="1285"/><line x1="1121" y1="1265" x2="1121" y2="1285"/>
<rect x="1181" y="1281" width="8" height="6"/><rect x="1364" y="1281" width="8" height="6"/>
<rect x="1181" y="1287" width="64" height="20"/><line x1="1202" y1="1287" x2="1202" y2="1307"/><line x1="1224" y1="1287" x2="1224" y2="1307"/>
<rect x="1256" y="1295" width="20" height="12"/>
<rect x="1287" y="1287" width="85" height="20"/><line x1="1308" y1="1287" x2="1308" y2="1307"/><line x1="1330" y1="1287" x2="1330" y2="1307"/><line x1="1351" y1="1287" x2="1351" y2="1307"/>
<rect x="1181" y="1307" width="191" height="21"/>
<line x1="1202" y1="1307" x2="1202" y2="1328"/><line x1="1224" y1="1307" x2="1224" y2="1328"/><line x1="1245" y1="1307" x2="1245" y2="1328"/><line x1="1266" y1="1307" x2="1266" y2="1328"/><line x1="1287" y1="1307" x2="1287" y2="1328"/><line x1="1308" y1="1307" x2="1308" y2="1328"/><line x1="1330" y1="1307" x2="1330" y2="1328"/><line x1="1351" y1="1307" x2="1351" y2="1328"/>
<rect x="127" y="1391" width="4" height="12"/><rect x="188" y="1391" width="4" height="12"/>
<path d="M143,1392 H170 L161,1404 V1424 H152 V1404 Z"/>
<rect x="90" y="1403" width="44" height="20"/><line x1="112" y1="1403" x2="112" y2="1423"/>
<rect x="175" y="1403" width="44" height="20"/><line x1="197" y1="1403" x2="197" y2="1423"/>
<rect x="104" y="1424" width="106" height="21"/><line x1="125" y1="1424" x2="125" y2="1445"/><line x1="146" y1="1424" x2="146" y2="1445"/><line x1="167" y1="1424" x2="167" y2="1445"/><line x1="188" y1="1424" x2="188" y2="1445"/>
<rect x="90" y="1446" width="129" height="21"/><line x1="112" y1="1446" x2="112" y2="1467"/><line x1="133" y1="1446" x2="133" y2="1467"/><line x1="154" y1="1446" x2="154" y2="1467"/><line x1="176" y1="1446" x2="176" y2="1467"/><line x1="197" y1="1446" x2="197" y2="1467"/>
<rect x="104" y="1468" width="97" height="21"/><line x1="125" y1="1468" x2="125" y2="1489"/><line x1="145" y1="1468" x2="145" y2="1489"/><line x1="163" y1="1468" x2="163" y2="1489"/><line x1="182" y1="1468" x2="182" y2="1489"/>
<line x1="145" y1="1468" x2="163" y2="1489"/><line x1="163" y1="1468" x2="145" y2="1489"/>
<rect x="90" y="1490" width="129" height="21"/><line x1="112" y1="1490" x2="112" y2="1511"/><line x1="133" y1="1490" x2="133" y2="1511"/><line x1="154" y1="1490" x2="154" y2="1511"/><line x1="176" y1="1490" x2="176" y2="1511"/><line x1="197" y1="1490" x2="197" y2="1511"/>
<rect x="315" y="1400" width="4" height="15"/><rect x="375" y="1400" width="4" height="15"/>
<path d="M329,1394 H361 L351,1412 V1436 H339 V1412 Z"/>
<rect x="283" y="1415" width="44" height="21"/><line x1="305" y1="1415" x2="305" y2="1436"/>
<rect x="366" y="1415" width="44" height="21"/><line x1="388" y1="1415" x2="388" y2="1436"/>
<rect x="283" y="1436" width="127" height="21"/><line x1="305" y1="1436" x2="305" y2="1457"/><line x1="327" y1="1436" x2="327" y2="1457"/><line x1="345" y1="1436" x2="345" y2="1457"/><line x1="366" y1="1436" x2="366" y2="1457"/><line x1="388" y1="1436" x2="388" y2="1457"/>
<rect x="270" y="1457" width="152" height="21"/><line x1="291" y1="1457" x2="291" y2="1478"/><line x1="313" y1="1457" x2="313" y2="1478"/><line x1="335" y1="1457" x2="335" y2="1478"/><line x1="356" y1="1457" x2="356" y2="1478"/><line x1="378" y1="1457" x2="378" y2="1478"/><line x1="400" y1="1457" x2="400" y2="1478"/>
<line x1="335" y1="1457" x2="356" y2="1478"/><line x1="356" y1="1457" x2="335" y2="1478"/>
<rect x="283" y="1478" width="127" height="21"/><line x1="305" y1="1478" x2="305" y2="1499"/><line x1="327" y1="1478" x2="327" y2="1499"/><line x1="345" y1="1478" x2="345" y2="1499"/><line x1="366" y1="1478" x2="366" y2="1499"/><line x1="388" y1="1478" x2="388" y2="1499"/>
<rect x="283" y="1499" width="127" height="21"/><line x1="305" y1="1499" x2="305" y2="1520"/><line x1="327" y1="1499" x2="327" y2="1520"/><line x1="345" y1="1499" x2="345" y2="1520"/><line x1="366" y1="1499" x2="366" y2="1520"/><line x1="388" y1="1499" x2="388" y2="1520"/>
</g>

<g class="n" style="font-size:13px">
<text class="n" x="117" y="1305">1</text><text class="n" x="117" y="1324">2</text>
<text class="n" x="234" y="1305">1</text><text class="n" x="256" y="1305">2</text>
<text class="n" x="369" y="1267">1</text><text class="n" x="391" y="1267">2</text><text class="n" x="413" y="1267">3</text><text class="n" x="435" y="1267">4</text><text class="n" x="456" y="1267">5</text>
<text class="n" x="520" y="1296">1</text><text class="n" x="584" y="1296">2</text>
<text class="n" x="520" y="1316">3</text><text class="n" x="541" y="1316">4</text><text class="n" x="562" y="1316">5</text><text class="n" x="584" y="1316">6</text>
<text class="n" x="652" y="1301">1</text><text class="n" x="684" y="1301">2</text><text class="n" x="717" y="1301">3</text>
<text class="n" x="642" y="1323">4</text><text class="n" x="663" y="1323">5</text><text class="n" x="684" y="1323">6</text><text class="n" x="705" y="1323">7</text><text class="n" x="727" y="1323">8</text>
<text class="n" x="785" y="1262">1</text><text class="n" x="807" y="1262">2</text><text class="n" x="870" y="1262">3</text><text class="n" x="891" y="1262">4</text><text class="n" x="913" y="1262">5</text>
<text class="n" x="785" y="1282">6</text><text class="n" x="807" y="1282">7</text><text class="n" x="828" y="1282">8</text><text class="n" x="849" y="1282">9</text><text class="n" x="870" y="1282">10</text><text class="n" x="891" y="1282">11</text><text class="n" x="913" y="1282">12</text>
<text class="n" x="970" y="1260">1</text><text class="n" x="991" y="1260">2</text><text class="n" x="1013" y="1260">3</text><text class="n" x="1089" y="1260">4</text><text class="n" x="1110" y="1260">5</text><text class="n" x="1132" y="1260">6</text>
<text class="n" x="970" y="1280">7</text><text class="n" x="991" y="1280">8</text><text class="n" x="1013" y="1280">9</text><text class="n" x="1037" y="1280">10</text><text class="n" x="1058" y="1280">11</text><text class="n" x="1089" y="1280">12</text><text class="n" x="1110" y="1280">13</text><text class="n" x="1132" y="1280">14</text>
<text class="n" x="1191" y="1302">1</text><text class="n" x="1213" y="1302">2</text><text class="n" x="1234" y="1302">3</text><text class="n" x="1297" y="1302">4</text><text class="n" x="1319" y="1302">5</text><text class="n" x="1340" y="1302">6</text><text class="n" x="1361" y="1302">7</text>
<text class="n" x="1191" y="1323">8</text><text class="n" x="1213" y="1323">9</text><text class="n" x="1234" y="1323">10</text><text class="n" x="1255" y="1323">11</text><text class="n" x="1276" y="1323">12</text><text class="n" x="1297" y="1323">13</text><text class="n" x="1319" y="1323">14</text><text class="n" x="1340" y="1323">15</text><text class="n" x="1361" y="1323">16</text>
<text class="n" x="101" y="1418">1</text><text class="n" x="123" y="1418">2</text><text class="n" x="186" y="1418">3</text><text class="n" x="208" y="1418">4</text>
<text class="n" x="114" y="1440">5</text><text class="n" x="135" y="1440">6</text><text class="n" x="156" y="1440">7</text><text class="n" x="177" y="1440">8</text><text class="n" x="199" y="1440">9</text>
<text class="n" x="101" y="1462">10</text><text class="n" x="122" y="1462">11</text><text class="n" x="143" y="1462">12</text><text class="n" x="165" y="1462">13</text><text class="n" x="186" y="1462">14</text><text class="n" x="208" y="1462">15</text>
<text class="n" x="114" y="1484">16</text><text class="n" x="135" y="1484">17</text><text class="n" x="172" y="1484">18</text><text class="n" x="191" y="1484">19</text>
<text class="n" x="101" y="1506">20</text><text class="n" x="122" y="1506">21</text><text class="n" x="143" y="1506">22</text><text class="n" x="165" y="1506">23</text><text class="n" x="186" y="1506">24</text><text class="n" x="208" y="1506">25</text>
<text class="n" x="294" y="1431">1</text><text class="n" x="316" y="1431">2</text><text class="n" x="377" y="1431">3</text><text class="n" x="399" y="1431">4</text>
<text class="n" x="294" y="1452">5</text><text class="n" x="316" y="1452">6</text><text class="n" x="336" y="1452">7</text><text class="n" x="355" y="1452">8</text><text class="n" x="377" y="1452">9</text><text class="n" x="399" y="1452">10</text>
<text class="n" x="280" y="1473">11</text><text class="n" x="302" y="1473">12</text><text class="n" x="324" y="1473">13</text><text class="n" x="367" y="1473">14</text><text class="n" x="389" y="1473">15</text><text class="n" x="411" y="1473">16</text>
<text class="n" x="294" y="1494">17</text><text class="n" x="316" y="1494">18</text><text class="n" x="336" y="1494">19</text><text class="n" x="355" y="1494">20</text><text class="n" x="377" y="1494">21</text><text class="n" x="399" y="1494">22</text>
<text class="n" x="294" y="1515">23</text><text class="n" x="316" y="1515">24</text><text class="n" x="336" y="1515">25</text><text class="n" x="355" y="1515">26</text><text class="n" x="377" y="1515">27</text><text class="n" x="399" y="1515">28</text>
</g>

<text x="1355" y="1521" style="font-size:17px;font-weight:normal;text-anchor:middle">WI-27019</text>
</svg>
</body></html>
